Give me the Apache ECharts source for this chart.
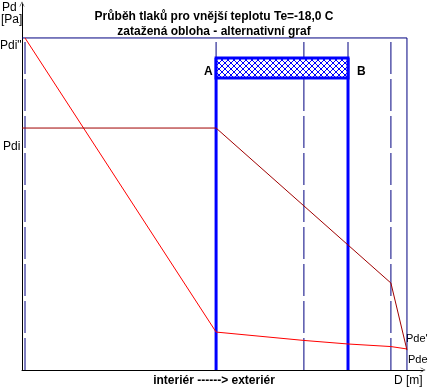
<!DOCTYPE html>
<html>
<head>
<meta charset="utf-8">
<script src="https://cdn.jsdelivr.net/npm/echarts@6/dist/echarts.min.js"></script>
<style>
html,body{margin:0;padding:0;background:#fff;}
#c{width:428px;height:390px;}
</style>
</head>
<body>
<div id="c"></div>
<script>
// ---- data (D in m, pressures in Pa) ----
const titleLines = ['Průběh tlaků pro vnější teplotu Te=-18,0 C', 'zatažená obloha - alternativní graf'];
const interfaces = [0.075, 4.84, 7.03, 8.13, 9.20];   // dashed layer boundaries
const outerSurface = 9.60;                             // exterior surface
const satX = [0.075, 4.84, 7.03, 8.13, 9.20, 9.60];    // saturation pressure Pd''
const satP = [2337, 267, 208, 183, 165, 148];
const pdX = [0, 4.84, 9.20, 9.60];                     // partial pressure Pd
const pdP = [1703, 1703, 612, 140];
const zoneX = [4.84, 8.13];                            // condensation zone A-B
const zoneP = [2055, 2196];
const pdiSat = 2337;
const axisMaxX = 10;
const axisMaxY = 2576;

const navy = '#000080', blue = '#0000FF';

// crosshatch pattern
const pc = document.createElement('canvas');
pc.width = 6; pc.height = 6;
const g = pc.getContext('2d');
g.fillStyle = '#fff'; g.fillRect(0, 0, 6, 6);
g.strokeStyle = blue; g.lineWidth = 1;
g.beginPath();
g.moveTo(0, 0); g.lineTo(6, 6);
g.moveTo(6, 0); g.lineTo(0, 6);
g.stroke();

const series = [];
// top boundary line
series.push({type: 'line', data: [[0, pdiSat], [outerSurface, pdiSat]], symbol: 'none', silent: true,
  lineStyle: {color: navy, width: 1}, z: 2});
// dashed interfaces
interfaces.forEach(x => series.push({type: 'line', data: [[x, 0], [x, pdiSat]], symbol: 'none', silent: true,
  lineStyle: {color: navy, width: 1, type: [32, 5]}, z: 2}));
// exterior surface
series.push({type: 'line', data: [[outerSurface, 0], [outerSurface, pdiSat]], symbol: 'none', silent: true,
  lineStyle: {color: navy, width: 1}, z: 2});
// zone walls
zoneX.forEach(x => series.push({type: 'line', data: [[x, 0], [x, zoneP[1]]], symbol: 'none', silent: true,
  lineStyle: {color: blue, width: 3}, z: 3}));
// zone rectangle
series.push({type: 'custom', silent: true, z: 4,
  data: [[zoneX[0], zoneX[1], zoneP[0], zoneP[1]]],
  renderItem: function (params, api) {
    const p1 = api.coord([api.value(0), api.value(3)]);
    const p2 = api.coord([api.value(1), api.value(2)]);
    return {type: 'rect', shape: {x: p1[0], y: p1[1], width: p2[0] - p1[0], height: p2[1] - p1[1]},
      style: {fill: {type: 'pattern', image: pc, repeat: 'repeat'}, stroke: blue, lineWidth: 3}};
  }});
// saturation pressure
series.push({type: 'line', data: satX.map((x, i) => [x, satP[i]]), symbol: 'none', silent: true,
  lineStyle: {color: '#FF0000', width: 1}, z: 5});
// partial pressure
series.push({type: 'line', data: pdX.map((x, i) => [x, pdP[i]]), symbol: 'none', silent: true,
  lineStyle: {color: '#A00000', width: 1}, z: 6});

const FF = '"Liberation Sans", Arial, sans-serif';
const txt = (t, left, top, bold, size) => ({type: 'text', left: left, top: top,
  style: {text: t, fill: '#000', font: (bold ? 'bold ' : '') + (size || 12) + 'px ' + FF}});

const chart = echarts.init(document.getElementById('c'), null, {renderer: 'canvas'});
chart.setOption({
  animation: false,
  backgroundColor: '#fff',
  title: {text: titleLines.join('\n'), left: 'center', top: 4,
    textStyle: {fontSize: 12, fontWeight: 'bold', lineHeight: 15, color: '#000', fontFamily: FF}},
  grid: {left: 22, right: 5, top: 4, bottom: 20},
  xAxis: {type: 'value', min: 0, max: axisMaxX, splitLine: {show: false}, axisTick: {show: false}, axisLabel: {show: false},
    axisLine: {show: true, lineStyle: {color: '#000', width: 1}, symbol: ['none', 'path://M0,10 L5,0 L10,10 L9,10 L5,2 L1,10 Z'], symbolSize: [8, 5]}},
  yAxis: {type: 'value', min: 0, max: axisMaxY, splitLine: {show: false}, axisTick: {show: false}, axisLabel: {show: false},
    axisLine: {show: true, lineStyle: {color: '#000', width: 1}, symbol: ['none', 'path://M0,10 L5,0 L10,10 L9,10 L5,2 L1,10 Z'], symbolSize: [8, 5]}},
  series: series,
  graphic: [
    txt('Pd', 2, 2), txt('[Pa]', 1, 14),
    txt('Pdi"', 0, 40), txt('Pdi', 3, 141),
    txt('A', 204, 66, true), txt('B', 357, 66, true),
    txt("Pde'", 406, 333, false, 11), txt('Pde', 408, 354, false, 11),
    txt('D [m]', 394, 375),
    txt('interiér ------> exteriér', 'center', 375, true)
  ]
});
</script>
</body>
</html>
